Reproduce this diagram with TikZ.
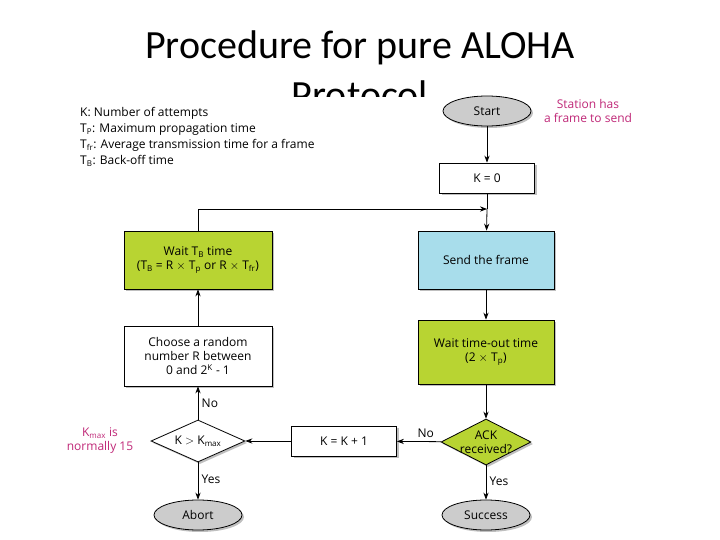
\documentclass[tikz,border=0pt]{standalone}
\usepackage{fontspec}
\setmainfont{Open Sans}
\newfontfamily\titlefont{Carlito}
\usetikzlibrary{shapes.geometric,shadows,arrows.meta}
\definecolor{note}{RGB}{192,40,120}
\definecolor{lime}{RGB}{184,212,50}
\definecolor{sky}{RGB}{168,221,235}
\newcommand\dfont{\fontsize{12}{14}\selectfont}
\begin{document}
\begin{tikzpicture}[x=1pt,y=-1pt,
    box/.style={draw,thick,fill=white,drop shadow={shadow xshift=2pt,shadow yshift=-2pt},align=center,font=\dfont,inner sep=2pt},
    term/.style={ellipse,draw,thick,fill=gray!40,minimum width=88pt,minimum height=30pt,drop shadow={shadow xshift=2pt,shadow yshift=-2pt},font=\dfont},
    test/.style={diamond,draw,thick,aspect=2,inner sep=-4pt,drop shadow={shadow xshift=2pt,shadow yshift=-2pt},align=center,font=\dfont},
    arr/.style={-{Stealth[length=7pt]},thick},
    note/.style={text=note,align=center,font=\dfont}]
  \useasboundingbox (0,0) rectangle (720,540);
  \fill[white] (0,0) rectangle (720,540);
  \node[font=\titlefont\fontsize{40}{50}\selectfont,align=center] (title) at (360,70) {Procedure for pure ALOHA\\Protocol};
  \fill[white] (70,97) rectangle (650,540);

  % legend
  \node[anchor=north west,align=left,font=\dfont,inner sep=0pt] (legend) at (80,107)
    {K: Number of attempts\\[2pt] T$_\mathrm{P}$: Maximum propagation time\\[2pt] T$_\mathrm{fr}$: Average transmission time for a frame\\[2pt] T$_\mathrm{B}$: Back-off time};

  \node[term] (start) at (487,111) {Start};
  \node[note] (station) at (588,111) {Station has\\a frame to send};
  \node[box,minimum width=95pt,minimum height=30pt] (k0) at (487,178) {K = 0};
  \coordinate (join) at (487,209);
  \node[box,fill=sky,minimum width=136pt,minimum height=58pt] (send) at (486,260) {Send the frame};
  \node[box,fill=lime,minimum width=136pt,minimum height=64pt] (timeout) at (486,352) {Wait time-out time\\(2 $\times$ T$_\mathrm{p}$)};
  \node[test,fill=lime,inner sep=-2pt,minimum width=90pt,minimum height=46pt] (ack) at (486,442) {ACK\\received?};
  \node[term] (success) at (486,515) {Success};
  \node[box,minimum width=105pt,minimum height=30pt] (inc) at (344,441) {K = K + 1};
  \node[test,fill=white,minimum width=94pt,minimum height=42pt] (cmp) at (198,441) {K $>$ K$_\mathrm{max}$};
  \node[term] (abort) at (198,515) {Abort};
  \node[box,minimum width=148pt,minimum height=60pt] (rand) at (198,356) {Choose a random\\number R between\\0 and 2$^\mathrm{K}$ - 1};
  \node[box,fill=lime,minimum width=148pt,minimum height=58pt] (wait) at (198,260) {Wait T$_\mathrm{B}$ time\\(T$_\mathrm{B}$ = R $\times$ T$_\mathrm{p}$ or R $\times$ T$_\mathrm{fr}$)};
  \node[note] (kmax) at (100,441) {K$_\mathrm{max}$ is\\normally 15};

  \draw[arr] (start) -- (k0);
  \draw[thick] (k0) -- (join);
  \draw[arr] (join) -- (send);
  \draw[arr] (wait.north) |- (join);
  \draw[arr] (send) -- (timeout);
  \draw[arr] (timeout) -- (ack);
  \draw[arr] (ack) -- node[pos=0.45,right,font=\dfont] {Yes} (success);
  \draw[arr] (ack) -- node[above,pos=0.35,font=\dfont] {No} (inc);
  \draw[arr] (inc) -- (cmp);
  \draw[arr] (cmp) -- node[right,font=\dfont] {No} (rand);
  \draw[arr] (rand) -- (wait);
  \draw[arr] (cmp) -- node[pos=0.45,right,font=\dfont] {Yes} (abort);
\end{tikzpicture}
\end{document}
